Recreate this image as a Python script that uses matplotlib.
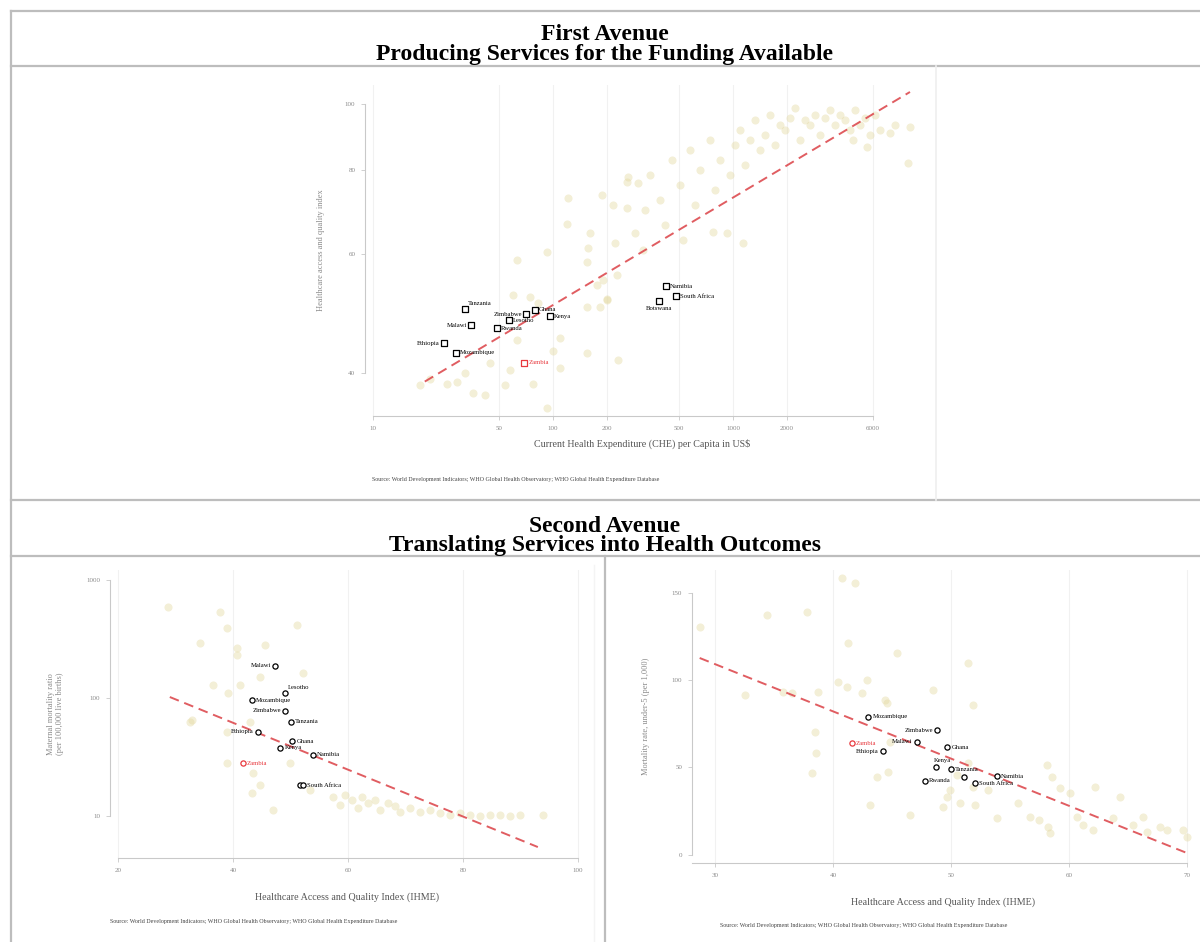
import matplotlib
matplotlib.use("Agg")
import matplotlib.pyplot as plt
from matplotlib.lines import Line2D

plt.rcParams["font.family"] = ["Liberation Serif", "DejaVu Serif"]

W, H = 1200, 942

# ---------------- First Avenue: spending vs. HAQ index ----------------
bg_che = [25.8, 29.3, 35.9, 54.1, 77.4, 92.6, 109, 100, 109, 155, 230, 63.1, 74.5, 82.6,
          155, 182, 200, 175, 227, 59.9, 18.2, 20.7, 41.9, 57.7, 32.4, 44.7,
          63.1, 92.6, 121, 119, 161, 157, 155, 187, 215, 258, 261, 297, 258, 221, 286, 324, 316,
          527, 774, 926, 1137, 200, 190,
          346, 393, 419, 458, 508, 577, 615, 656, 745, 794, 847, 962, 1026, 1094, 1166, 1242,
          1324, 1413, 1506, 1606, 1711, 1824, 1945, 2073, 2210, 2356, 2512, 2678, 2855, 3043,
          3244, 3459, 3688, 3931, 4191, 4468, 4763, 5077, 5412, 5769, 6150, 6556, 7453, 7944,
          9624, 9370, 5550, 4642]
bg_haq = [38.6, 38.8, 37.4, 38.4, 38.6, 35.6, 40.8, 43.2, 45.1, 42.9, 41.8, 44.8, 51.8, 50.9,
          50.1, 50.1, 51.6, 54.0, 55.9, 52.2, 38.4, 39.3, 37.1, 40.4, 40.1, 41.5,
          58.8, 60.4, 72.6, 66.4, 64.4, 61.3, 58.4, 73.4, 70.9, 70.2, 78.0, 76.4, 76.7, 62.3,
          64.4, 69.7, 60.8,
          62.9, 64.7, 64.4, 62.3, 51.3, 54.9,
          78.5, 72.1, 66.2, 82.6, 75.9, 85.5, 70.9, 79.8, 88.5, 74.7, 82.6, 78.5, 86.9, 91.5,
          81.2, 88.5, 94.6, 85.5, 89.9, 96.3, 86.9, 93.1, 91.5, 95.3, 98.6, 88.5, 94.6, 93.1,
          96.3, 89.9, 95.3, 97.9, 93.1, 96.3, 94.6, 91.5, 97.9, 93.1, 95.3, 89.9, 96.3, 91.5,
          90.6, 93.1, 92.4, 81.8, 86.3, 88.5]

top_names = ["Tanzania", "Malawi", "Ethiopia", "Mozambique", "Ghana", "Kenya", "Zimbabwe",
             "Lesotho", "Rwanda", "Zambia", "Namibia", "South Africa", "Botswana"]
top_che = [32.4, 35.0, 24.8, 28.9, 79.4, 96.2, 70.8, 57.0, 48.9, 69.0, 424, 482, 388]
top_haq = [49.8, 47.1, 44.3, 42.9, 49.7, 48.6, 48.9, 47.9, 46.6, 41.5, 53.8, 52.0, 51.1]
top_side = ["ur", "l", "l", "r", "r", "r", "l", "r", "r", "r", "r", "r", "b"]

top_fit_x = [19.4, 9624]
top_fit_y = [38.9, 104.2]
top_xticks = [10, 50, 100, 200, 500, 1000, 2000, 6000]
top_yticks = [40, 60, 80, 100]

# ---------------- Second Avenue (left): HAQ vs. maternal mortality ----------------
bg_haq_l = [28.7, 37.7, 34.3, 39.0, 40.7, 40.7, 45.6, 51.1, 36.5, 41.2, 32.9, 52.2, 44.7,
            39.1, 32.5, 39.0, 43.0, 39.0, 43.5, 43.3, 47.0, 49.9, 44.7, 53.4,
            57.4, 58.6, 59.5, 60.7, 61.7, 62.4, 63.5, 64.7, 65.6, 67.0, 68.2, 69.0, 70.8,
            72.5, 74.3, 76.0, 77.7, 79.5, 81.2, 83.0, 84.7, 86.4, 88.2, 89.9, 93.9]
bg_mmr = [590, 536, 292, 392, 265, 231, 281, 415, 129, 129, 65, 163, 151,
          110, 63, 52, 63, 28, 23, 15.7, 11.2, 28, 18.3, 16.6,
          14.5, 12.4, 15.1, 13.7, 11.7, 14.5, 12.9, 13.7, 11.2, 12.9, 12.2, 10.8, 11.7,
          10.8, 11.2, 10.6, 10.2, 10.6, 10.2, 10.0, 10.2, 10.2, 10.0, 10.2, 10.2]

mmr_names = ["Malawi", "Lesotho", "Mozambique", "Zimbabwe", "Tanzania", "Ethiopia", "Ghana",
             "Kenya", "Namibia", "Zambia", "Botswana", "South Africa"]
mmr_haq = [47.3, 49.0, 43.3, 49.0, 50.1, 44.3, 50.3, 48.2, 53.9, 41.7, 51.7, 52.2]
mmr_val = [187, 110, 96, 78, 63, 52, 43, 38, 33, 28, 18.3, 18.3]
mmr_side = ["l", "ur", "r", "l", "r", "l", "r", "r", "r", "r", "none", "r"]

mmr_fit_x = [29.0, 93.0]
mmr_fit_y = [102, 5.46]
mmr_xticks = [20, 40, 60, 80, 100]
mmr_yticks = [10, 100, 1000]

# ---------------- Second Avenue (right): HAQ vs. under-5 mortality ----------------
bg_haq_r = [28.7, 34.4, 37.8, 40.8, 41.9, 41.3, 45.4, 40.4, 42.9, 32.5, 35.8, 38.7, 44.6,
            41.2, 36.5, 51.4, 48.5, 51.9, 42.5, 44.4, 38.5, 38.6, 38.2, 43.1, 46.5, 49.3,
            50.8, 52.0, 53.9, 55.7, 56.7, 58.1, 58.6, 59.2, 60.1, 62.2, 64.3, 66.3, 67.7,
            69.7, 70.0, 57.5, 58.2, 58.4, 60.7, 61.2, 62.0, 63.7, 65.4, 66.6, 68.3, 49.9,
            51.9, 53.1, 50.5, 51.4, 44.8, 49.7, 43.7, 44.7]
bg_u5 = [130.3, 137.1, 138.9, 158.3, 155.4, 121.1, 115.4, 98.9, 100.0, 91.4, 93.1, 93.1, 86.9,
         96.0, 92.6, 109.7, 94.3, 85.7, 92.6, 88.6, 70.3, 58.3, 46.9, 28.6, 22.9, 27.4,
         29.7, 28.6, 21.1, 29.7, 21.7, 51.4, 44.6, 38.3, 35.4, 38.9, 33.1, 21.7, 16.0,
         14.3, 10.3, 20.0, 16.0, 12.6, 21.7, 17.1, 14.3, 21.1, 17.1, 13.1, 14.3, 37.1,
         38.9, 37.1, 45.7, 52.6, 64.6, 33.1, 44.6, 47.4]

u5_names = ["Mozambique", "Zimbabwe", "Zambia", "Malawi", "Ethiopia", "Ghana", "Kenya",
            "Tanzania", "Rwanda", "Botswana", "South Africa", "Namibia"]
u5_haq = [43.0, 48.8, 41.6, 47.1, 44.2, 49.7, 48.7, 50.0, 47.8, 51.1, 52.0, 53.9]
u5_val = [78.9, 71.4, 64.0, 64.6, 59.4, 61.7, 50.3, 49.1, 42.3, 44.6, 41.1, 45.1]
u5_side = ["r", "l", "r", "l", "l", "r", "ul", "r", "r", "none", "r", "r"]

u5_fit_x = [28.7, 70.0]
u5_fit_y = [112.6, 1.1]
u5_xticks = [30, 40, 50, 60, 70]
u5_yticks = [0, 50, 100, 150]

SOURCE = ("Source: World Development Indicators; WHO Global Health Observatory; "
          "WHO Global Health Expenditure Database")

GRID = "#F1F1F1"
AXIS = "#C9C9C9"
TICKTXT = "#8A8A8A"
DOT = "#E2D79C"
RED = "#E8383D"
FIT = "#DD4B50"
BORDER = "#BDBDBD"

OFFS = {"r": (3, 0, "left", "center"), "l": (-3, 0, "right", "center"),
        "ur": (2, 2, "left", "bottom"), "ul": (-1, 3, "left", "bottom"),
        "b": (0, -3, "center", "top")}


def px_axes(fig, left, top, right, bottom):
    return fig.add_axes([left / W, 1 - bottom / H, (right - left) / W, (bottom - top) / H])


def hline(fig, y, x0, x1, color=BORDER, lw=1.6):
    fig.add_artist(Line2D([x0 / W, x1 / W], [1 - y / H, 1 - y / H], color=color, lw=lw,
                          transform=fig.transFigure))


def vline(fig, x, y0, y1, color=BORDER, lw=1.6):
    fig.add_artist(Line2D([x / W, x / W], [1 - y0 / H, 1 - y1 / H], color=color, lw=lw,
                          transform=fig.transFigure))


def style(ax, xticks, yticks, xb, yb):
    for s in ("top", "right"):
        ax.spines[s].set_visible(False)
    for s in ("left", "bottom"):
        ax.spines[s].set_color(AXIS)
        ax.spines[s].set_linewidth(0.8)
    ax.spines["bottom"].set_bounds(*xb)
    ax.spines["left"].set_bounds(*yb)
    ax.set_xticks(xticks)
    ax.set_xticklabels([str(t) for t in xticks])
    ax.set_yticks(yticks)
    ax.set_yticklabels([str(t) for t in yticks])
    ax.minorticks_off()
    ax.tick_params(axis="both", length=3, width=0.6, color=AXIS, labelsize=5,
                   labelcolor=TICKTXT, pad=4)
    for t in xticks:
        ax.axvline(t, color=GRID, lw=0.8, zorder=0)
    ax.set_facecolor("none")


def labelled(ax, xs, ys, names, sides, marker):
    for x, y, n, s in zip(xs, ys, names, sides):
        c = RED if n == "Zambia" else "black"
        ax.scatter([x], [y], marker=marker, s=14, facecolor="white", edgecolor=c,
                   linewidth=0.9, zorder=4)
        if s == "none":
            continue
        dx, dy, ha, va = OFFS[s]
        ax.annotate(n, (x, y), xytext=(dx, dy), textcoords="offset points", ha=ha, va=va,
                    fontsize=4.8, color=c, zorder=5)


fig = plt.figure(figsize=(W / 100, H / 100), dpi=100)

# table frame
hline(fig, 11, 11, W)
hline(fig, 66, 11, W)
hline(fig, 500, 11, W)
hline(fig, 556, 11, W)
vline(fig, 11, 11, H)
vline(fig, 605, 556, H)
vline(fig, 936, 66, 500, color="#EFEFEF", lw=1.2)
vline(fig, 594, 565, H, color="#F4F4F4", lw=1.0)

HEAD = dict(ha="center", va="baseline", fontsize=17, fontweight="bold")
fig.text(605 / W, 1 - 40 / H, "First Avenue", **HEAD)
fig.text(605 / W, 1 - 60 / H, "Producing Services for the Funding Available", **HEAD)
fig.text(605 / W, 1 - 532 / H, "Second Avenue", **HEAD)
fig.text(605 / W, 1 - 551 / H, "Translating Services into Health Outcomes", **HEAD)

# ---- top chart
ax = px_axes(fig, 365, 85, 920, 416)
ax.set_xscale("log")
ax.set_yscale("log")
ax.set_xlim(9.03, 10940)
ax.set_ylim(34.6, 106.7)
style(ax, top_xticks, top_yticks, (10, 6000), (40, 100))
ax.scatter(bg_che, bg_haq, s=34, color=DOT, alpha=0.4, linewidths=0, zorder=2)
ax.plot(top_fit_x, top_fit_y, color=FIT, lw=1.4, ls=(0, (5, 3)), alpha=0.9, zorder=3)
labelled(ax, top_che, top_haq, top_names, top_side, "s")
ax.set_xlabel("Current Health Expenditure (CHE) per Capita in US$", fontsize=7.2,
              color="#555555", labelpad=6)
ax.set_ylabel("Healthcare access and quality index", fontsize=6, color="#8A8A8A", labelpad=14)
fig.text(372 / W, 1 - 479 / H, SOURCE, ha="left", va="center", fontsize=4.3, color="#444444")

# ---- bottom-left chart
ax = px_axes(fig, 110, 570, 585, 858)
ax.set_yscale("log")
ax.set_xlim(18.6, 101.2)
ax.set_ylim(4.41, 1216)
style(ax, mmr_xticks, mmr_yticks, (20, 100), (10, 1000))
ax.scatter(bg_haq_l, bg_mmr, s=34, color=DOT, alpha=0.4, linewidths=0, zorder=2)
ax.plot(mmr_fit_x, mmr_fit_y, color=FIT, lw=1.4, ls=(0, (5, 3)), alpha=0.9, zorder=3)
labelled(ax, mmr_haq, mmr_val, mmr_names, mmr_side, "o")
ax.set_xlabel("Healthcare Access and Quality Index (IHME)", fontsize=7.2, color="#555555",
              labelpad=14)
ax.set_ylabel("Maternal mortality ratio\n(per 100,000 live births)", fontsize=6,
              color="#8A8A8A", labelpad=16)
fig.text(110 / W, 1 - 922 / H, SOURCE, ha="left", va="center", fontsize=4.3, color="#444444")

# ---- bottom-right chart
ax = px_axes(fig, 692, 570, 1195, 863)
ax.set_xlim(28.05, 70.68)
ax.set_ylim(-4.6, 162.9)
style(ax, u5_xticks, u5_yticks, (28.05, 70), (0, 150))
ax.scatter(bg_haq_r, bg_u5, s=34, color=DOT, alpha=0.4, linewidths=0, zorder=2)
ax.plot(u5_fit_x, u5_fit_y, color=FIT, lw=1.4, ls=(0, (5, 3)), alpha=0.9, zorder=3)
labelled(ax, u5_haq, u5_val, u5_names, u5_side, "o")
ax.set_xlabel("Healthcare Access and Quality Index (IHME)", fontsize=7.2, color="#555555",
              labelpad=14)
ax.set_ylabel("Mortality rate, under-5 (per 1,000)", fontsize=6, color="#8A8A8A", labelpad=16)
fig.text(720 / W, 1 - 925 / H, SOURCE, ha="left", va="center", fontsize=4.3, color="#444444")

fig.savefig("out.png", dpi=100)
